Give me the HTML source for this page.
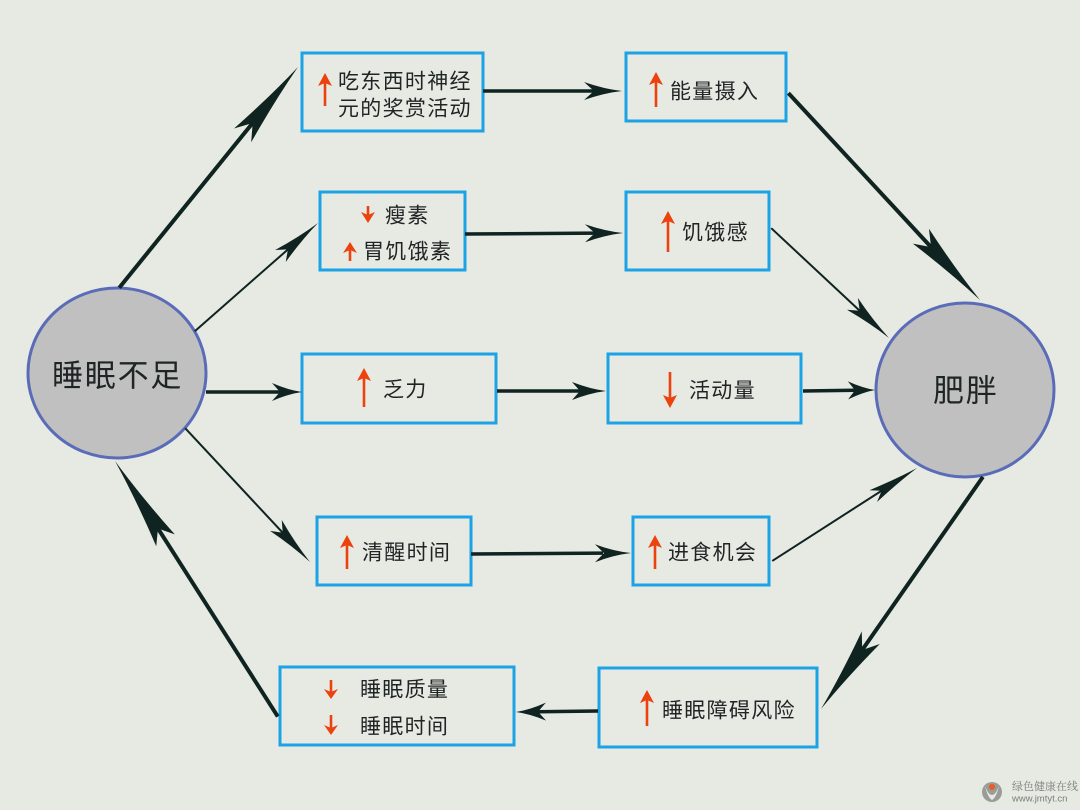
<!DOCTYPE html>
<html><head><meta charset="utf-8"><style>
html,body{margin:0;padding:0;background:#e7e9e3;}
svg{display:block;}
text{font-family:"Liberation Sans","Noto Sans CJK SC",sans-serif;fill:#1f2524;}
.bx{fill:none;stroke:#1ba3e6;stroke-width:3;}
.ar line{stroke:#0f2321;}
.ar path{fill:#0f2321;}
.rd line{stroke:#ec420e;stroke-width:2.6;}
.rd path{fill:#ec420e;}
.t{font-size:21px;letter-spacing:1.3px;}
.c{font-size:31px;letter-spacing:1.8px;}
</style></head><body>
<svg width="1080" height="810" viewBox="0 0 1080 810" xmlns="http://www.w3.org/2000/svg">
<rect width="1080" height="810" fill="#e7e9e3"/>

<!-- circles -->
<ellipse cx="117" cy="373" rx="89" ry="85" fill="#c0c0c0" stroke="#5a6cb8" stroke-width="3"/>
<ellipse cx="965" cy="390" rx="89" ry="87" fill="#c0c0c0" stroke="#5a6cb8" stroke-width="3"/>
<text class="c" x="52" y="376" dominant-baseline="central">睡眠不足</text>
<text class="c" x="933" y="391" dominant-baseline="central">肥胖</text>

<!-- boxes -->
<rect class="bx" x="302" y="53" width="181" height="78"/>
<rect class="bx" x="320" y="192" width="145" height="78"/>
<rect class="bx" x="302" y="354" width="194" height="69"/>
<rect class="bx" x="317" y="517" width="154" height="68"/>
<rect class="bx" x="280" y="667" width="234" height="78"/>
<rect class="bx" x="626" y="53" width="160" height="68"/>
<rect class="bx" x="626" y="192" width="143" height="78"/>
<rect class="bx" x="608" y="354" width="193" height="69"/>
<rect class="bx" x="633" y="517" width="136" height="68"/>
<rect class="bx" x="599" y="668" width="218" height="79"/>

<!-- box texts -->
<text class="t" x="338" y="82" dominant-baseline="central">吃东西时神经</text>
<text class="t" x="338" y="109" dominant-baseline="central">元的奖赏活动</text>
<text class="t" x="385" y="216" dominant-baseline="central">瘦素</text>
<text class="t" x="363" y="252" dominant-baseline="central">胃饥饿素</text>
<text class="t" x="383" y="390" dominant-baseline="central">乏力</text>
<text class="t" x="362" y="553" dominant-baseline="central">清醒时间</text>
<text class="t" x="360" y="690" dominant-baseline="central">睡眠质量</text>
<text class="t" x="360" y="727" dominant-baseline="central">睡眠时间</text>
<text class="t" x="670" y="92" dominant-baseline="central">能量摄入</text>
<text class="t" x="682" y="233" dominant-baseline="central">饥饿感</text>
<text class="t" x="689" y="391" dominant-baseline="central">活动量</text>
<text class="t" x="668" y="553" dominant-baseline="central">进食机会</text>
<text class="t" x="662" y="711" dominant-baseline="central">睡眠障碍风险</text>

<!-- red up/down arrows -->
<g class="rd">
  <!-- up: box1 -->
  <line x1="325" y1="80" x2="325" y2="106"/><path d="M325,73 L318,86 L325,83 L332,86 Z"/>
  <!-- down: 瘦素 -->
  <line x1="368" y1="206" x2="368" y2="216"/><path d="M368,223 L361,212 L368,215 L375,212 Z"/>
  <!-- up: 胃饥饿素 -->
  <line x1="350" y1="248" x2="350" y2="261"/><path d="M350,242 L343,253 L350,250 L357,253 Z"/>
  <!-- up: 乏力 -->
  <line x1="364" y1="375" x2="364" y2="407"/><path d="M364,368 L357,381 L364,378 L371,381 Z"/>
  <!-- up: 清醒时间 -->
  <line x1="347" y1="542" x2="347" y2="569"/><path d="M347,535 L340,548 L347,545 L354,548 Z"/>
  <!-- down: 睡眠质量 -->
  <line x1="331" y1="680" x2="331" y2="692"/><path d="M331,699 L324,689 L331,692 L338,689 Z"/>
  <!-- down: 睡眠时间 -->
  <line x1="331" y1="715" x2="331" y2="728"/><path d="M331,735 L324,725 L331,728 L338,725 Z"/>
  <!-- up: 能量摄入 -->
  <line x1="656" y1="79" x2="656" y2="107"/><path d="M656,72 L649,85 L656,82 L663,85 Z"/>
  <!-- up: 饥饿感 -->
  <line x1="668" y1="218" x2="668" y2="252"/><path d="M668,211 L661,224 L668,221 L675,224 Z"/>
  <!-- down: 活动量 -->
  <line x1="670" y1="372" x2="670" y2="401"/><path d="M670,408 L663,395 L670,398 L677,395 Z"/>
  <!-- up: 进食机会 -->
  <line x1="655" y1="542" x2="655" y2="569"/><path d="M655,535 L648,548 L655,545 L662,548 Z"/>
  <!-- up: 睡眠障碍风险 -->
  <line x1="647" y1="697" x2="647" y2="726"/><path d="M647,690 L640,703 L647,700 L654,703 Z"/>
</g>

<!-- connectors -->
<g class="ar">
  <!-- A: left circle -> box1 -->
  <g transform="translate(298,67) rotate(-51)">
    <line x1="-284" y1="0" x2="-70" y2="0" stroke-width="4"/>
    <path d="M0,0 Q-40,-3 -88,-11 L-72,0 L-88,11 Q-40,3 0,0 Z"/>
  </g>
  <!-- B: left circle -> box2 -->
  <g transform="translate(318,223) rotate(-41.3)">
    <line x1="-164" y1="0" x2="-38" y2="0" stroke-width="2"/>
    <path d="M0,0 Q-24,-2 -50,-8 L-40,0 L-50,8 Q-24,2 0,0 Z"/>
  </g>
  <!-- C: left circle -> box3 -->
  <g transform="translate(302,392)">
    <line x1="-96" y1="0" x2="-22" y2="0" stroke-width="3.5"/>
    <path d="M0,0 Q-14,-2 -30,-9 L-22,0 L-30,9 Q-14,2 0,0 Z"/>
  </g>
  <!-- D: left circle -> box4 -->
  <g transform="translate(310,562) rotate(47)">
    <line x1="-183" y1="0" x2="-38" y2="0" stroke-width="2"/>
    <path d="M0,0 Q-24,-2 -50,-8 L-40,0 L-50,8 Q-24,2 0,0 Z"/>
  </g>
  <!-- E: box5 -> left circle -->
  <g transform="translate(115,461) rotate(-122.5)">
    <line x1="-303" y1="0" x2="-78" y2="0" stroke-width="4"/>
    <path d="M0,0 Q-45,-3 -94,-11 L-80,0 L-94,11 Q-45,3 0,0 Z"/>
  </g>
  <!-- F: box1 -> box6 -->
  <g transform="translate(622,91)">
    <line x1="-139" y1="0" x2="-28" y2="0" stroke-width="3.5"/>
    <path d="M0,0 Q-18,-2 -38,-9 L-28,0 L-38,9 Q-18,2 0,0 Z"/>
  </g>
  <!-- G: box2 -> box7 -->
  <g transform="translate(623,233) rotate(-0.36)">
    <line x1="-158" y1="0" x2="-28" y2="0" stroke-width="3.5"/>
    <path d="M0,0 Q-18,-2 -38,-9 L-28,0 L-38,9 Q-18,2 0,0 Z"/>
  </g>
  <!-- H: box3 -> box8 -->
  <g transform="translate(606,391)">
    <line x1="-109" y1="0" x2="-26" y2="0" stroke-width="3.5"/>
    <path d="M0,0 Q-16,-2 -34,-9 L-26,0 L-34,9 Q-16,2 0,0 Z"/>
  </g>
  <!-- I: box4 -> box9 -->
  <g transform="translate(631,553) rotate(-0.36)">
    <line x1="-160" y1="0" x2="-28" y2="0" stroke-width="3.5"/>
    <path d="M0,0 Q-18,-2 -36,-9 L-27,0 L-36,9 Q-18,2 0,0 Z"/>
  </g>
  <!-- J: box10 -> box5 -->
  <g transform="translate(516,712) rotate(179.3)">
    <line x1="-82" y1="0" x2="-22" y2="0" stroke-width="3.5"/>
    <path d="M0,0 Q-14,-2 -30,-9 L-22,0 L-30,9 Q-14,2 0,0 Z"/>
  </g>
  <!-- K: box6 -> right circle -->
  <g transform="translate(980,300) rotate(47.2)">
    <line x1="-282" y1="0" x2="-70" y2="0" stroke-width="4"/>
    <path d="M0,0 Q-40,-3 -87,-11 L-72,0 L-87,11 Q-40,3 0,0 Z"/>
  </g>
  <!-- L: box7 -> right circle -->
  <g transform="translate(889,338) rotate(43)">
    <line x1="-161" y1="0" x2="-38" y2="0" stroke-width="2"/>
    <path d="M0,0 Q-24,-2 -50,-8 L-40,0 L-50,8 Q-24,2 0,0 Z"/>
  </g>
  <!-- M: box8 -> right circle -->
  <g transform="translate(875,390) rotate(-0.8)">
    <line x1="-72" y1="0" x2="-20" y2="0" stroke-width="3.5"/>
    <path d="M0,0 Q-12,-2 -27,-9 L-20,0 L-27,9 Q-12,2 0,0 Z"/>
  </g>
  <!-- N: box9 -> right circle -->
  <g transform="translate(917,468) rotate(-32.7)">
    <line x1="-172" y1="0" x2="-40" y2="0" stroke-width="2"/>
    <path d="M0,0 Q-24,-2 -52,-7 L-42,0 L-52,7 Q-24,2 0,0 Z"/>
  </g>
  <!-- O: right circle -> box10 -->
  <g transform="translate(821,709) rotate(124.9)">
    <line x1="-283" y1="0" x2="-70" y2="0" stroke-width="4"/>
    <path d="M0,0 Q-40,-3 -87,-11 L-72,0 L-87,11 Q-40,3 0,0 Z"/>
  </g>
</g>

<!-- watermark -->
<g>
  <circle cx="992" cy="792" r="10" fill="#9a9c98"/>
  <path d="M985,786 Q992,804 999,786 Q996,798 992,800 Q988,798 985,786 Z" fill="#e7e9e3"/>
  <circle cx="992" cy="787" r="3" fill="#ec5a2a"/>
  <text x="1012" y="786" font-size="11" dominant-baseline="central" style="fill:#7a7c78;font-family:'Noto Serif CJK SC','Noto Sans CJK SC',serif;">绿色健康在线</text>
  <text x="1012" y="799" font-size="9.5" dominant-baseline="central" style="fill:#7a7c78;">www.jmtyt.cn</text>
</g>
</svg>
</body></html>
